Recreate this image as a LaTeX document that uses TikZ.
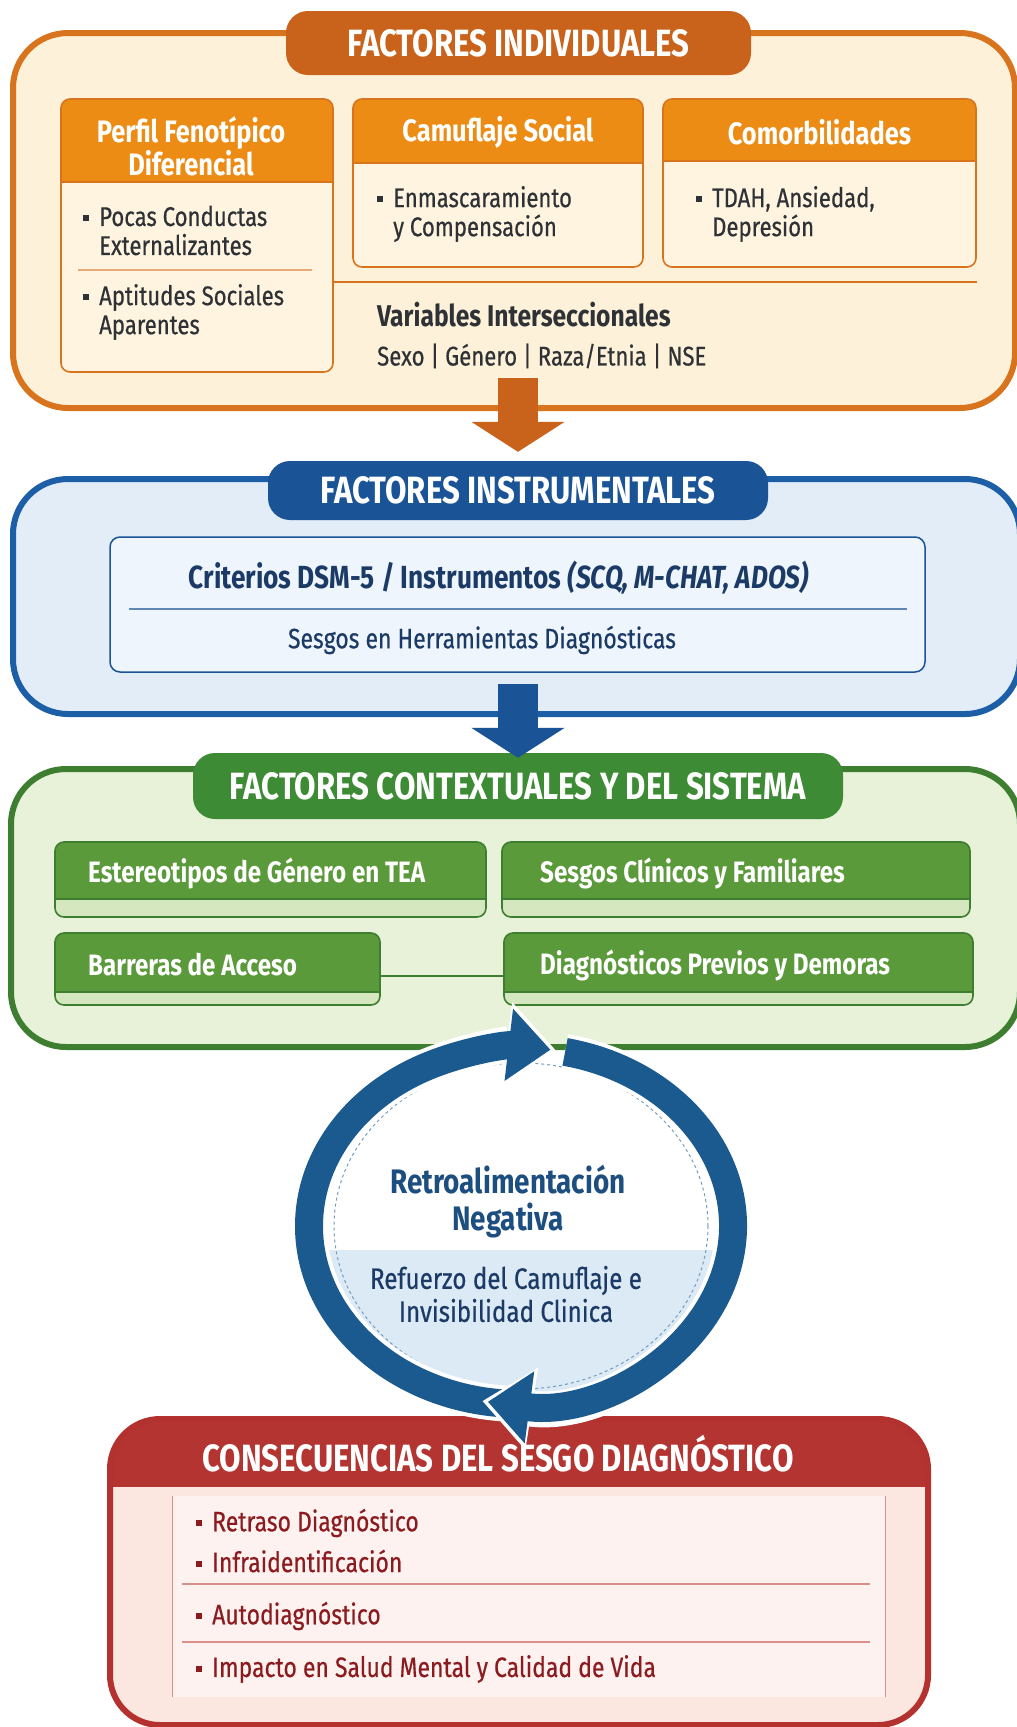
\documentclass[tikz,border=0pt]{standalone}
\usepackage{fontspec}
\setmainfont{Fira Sans}[FakeStretch=0.82]
\newfontfamily\medfont{Fira Sans}[FakeStretch=0.82,FakeBold=0.5]
\usetikzlibrary{arrows.meta,shapes.geometric}
\definecolor{orline}{HTML}{D8731E}
\definecolor{orfill}{HTML}{FDF1D9}
\definecolor{ortab}{HTML}{C9621A}
\definecolor{orhead}{HTML}{EC8C14}
\definecolor{orbody}{HTML}{FEF4DF}
\definecolor{txtdark}{HTML}{2E3135}
\definecolor{blline}{HTML}{1C5FA6}
\definecolor{blfill}{HTML}{E2EDF8}
\definecolor{bltab}{HTML}{1A5497}
\definecolor{blbox}{HTML}{EEF5FC}
\definecolor{bltext}{HTML}{1B3A66}
\definecolor{grline}{HTML}{3E7E30}
\definecolor{grfill}{HTML}{E8F2D9}
\definecolor{grtab}{HTML}{3E8B35}
\definecolor{grdark}{HTML}{5B9A3A}
\definecolor{grband}{HTML}{D5E7BE}
\definecolor{ringc}{HTML}{1B5A8F}
\definecolor{ringin}{HTML}{DCEAF6}
\definecolor{ringtext}{HTML}{1D4E80}
\definecolor{rdline}{HTML}{B3312E}
\definecolor{rdfill}{HTML}{FBE6E0}
\definecolor{rdhead}{HTML}{B33430}
\definecolor{rdtext}{HTML}{8C1B20}
\definecolor{rdsep}{HTML}{D9908A}
\newcommand\bul{\makebox[16pt][l]{\rule[5pt]{6pt}{6pt}}}
\newcommand\ind{\hspace*{16pt}}
\begin{document}
\begin{tikzpicture}[x=1pt,y=-1pt,
 panel/.style={draw=#1,line width=6pt,rounded corners=55pt},
 tab/.style={fill=#1,rounded corners=22pt,text=white,font=\fontsize{38}{42}\selectfont\bfseries},
 orbox/.style={draw=orline,line width=1.6pt,rounded corners=9pt,fill=orbody,
   path picture={\fill[orhead,sharp corners] (path picture bounding box.north west) rectangle ([yshift=-#1]path picture bounding box.north east);
     \draw[orline,line width=1.2pt,sharp corners] ([yshift=-#1]path picture bounding box.north west) -- ([yshift=-#1]path picture bounding box.north east);}},
 headtxt/.style={text=white,align=center,font=\fontsize{31}{30}\selectfont\bfseries},
 item/.style={text=txtdark,align=left,inner sep=0pt,anchor=west,font=\fontsize{27}{29}\medfont},
 grbox/.style={draw=grline,line width=1.6pt,rounded corners=9pt,fill=grdark,
   path picture={\fill[grband,sharp corners] ([yshift=#1]path picture bounding box.south west) rectangle (path picture bounding box.south east);
     \draw[grline,line width=1.4pt,sharp corners] ([yshift=#1]path picture bounding box.south west) -- ([yshift=#1]path picture bounding box.south east);}},
 grtxt/.style={text=white,anchor=west,inner sep=0pt,font=\fontsize{29.5}{32}\selectfont\bfseries},
 flow/.style={draw=#1,line width=40pt,-{Triangle[length=30pt,width=92pt]}},
 rditem/.style={text=rdtext,anchor=west,inner sep=0pt,font=\fontsize{28}{30}\medfont}]
\useasboundingbox (0,0) rectangle (1017,1727);
\fill[white] (0,0) rectangle (1017,1727);
% individuales
\node[panel=orline,fill=orfill,minimum width=1002pt,minimum height=375pt] (indiv) at (514,220.5) {};
\node[tab=ortab,minimum width=465pt,minimum height=64pt] (indivtab) at (518.5,43) {FACTORES INDIVIDUALES};
\node[orbox=83pt,minimum width=272pt,minimum height=273pt] (perfil) at (197,235.5) {};
\node[orbox=64pt,minimum width=290pt,minimum height=168pt] (camuf) at (498,183) {};
\node[orbox=62pt,minimum width=313pt,minimum height=168pt] (comorb) at (819.5,183) {};
\node[headtxt] (perfilhead) at (191,146) {Perfil Fenotípico\\Diferencial};
\node[headtxt] (camufhead) at (498,132) {Camuflaje Social};
\node[headtxt] (comorbhead) at (819.5,132) {Comorbilidades};
\node[item] (perfilA) at (83,230.5) {\bul Pocas Conductas\\\ind Externalizantes};
\node[item] (perfilB) at (83,312) {\bul Aptitudes Sociales\\\ind Aparentes};
\node[item] (camufA) at (377,214) {\bul Enmascaramiento\\\ind y Compensación};
\node[item] (comorbA) at (696,214) {\bul TDAH, Ansiedad,\\\ind Depresión};
\draw[orline!60,line width=1.2pt] ([xshift=18pt,yshift=-34.5pt]perfil.west) -- ([xshift=-22pt,yshift=-34.5pt]perfil.east);
\draw[orline,line width=1.5pt] ([yshift=-46.5pt]perfil.east) -- ([yshift=-46.5pt]perfil.east -| comorb.east);
\node[item,font=\fontsize{30}{30}\selectfont\bfseries] (vars) at (377,315) {Variables Interseccionales};
\node[item] (sexo) at (377,356) {Sexo | Género | Raza/Etnia | NSE};
% instrumentales
\node[panel=blline,fill=blfill,minimum width=1007pt,minimum height=235pt] (instr) at (516.5,596.5) {};
\node[tab=bltab,minimum width=500pt,minimum height=59pt] (instrtab) at (518,490.5) {FACTORES INSTRUMENTALES};
\node[draw=bltab,line width=1.5pt,fill=blbox,rounded corners=10pt,minimum width=815pt,minimum height=135pt] (criterios) at (517.5,604.5) {};
\node[text=bltext,font=\fontsize{32}{34}\selectfont\bfseries] (critA) at (499,578) {Criterios DSM-5 / Instrumentos \textit{(SCQ, M-CHAT, ADOS)}};
\draw[bltab!70,line width=1.2pt] ([xshift=20pt,yshift=-4.5pt]criterios.west) -- ([xshift=-19pt,yshift=-4.5pt]criterios.east);
\node[text=bltext,font=\fontsize{28}{30}\medfont] (critB) at (482,640) {Sesgos en Herramientas Diagnósticas};
\draw[flow=ortab] ([yshift=33pt]indiv.south -| instrtab.north) -- ([yshift=9pt]instrtab.north);
% contextuales
\node[panel=grline,fill=grfill,minimum width=1009pt,minimum height=278pt] (context) at (515.5,908) {};
\node[tab=grtab,minimum width=650pt,minimum height=66pt] (conttab) at (518,786) {FACTORES CONTEXTUALES Y DEL SISTEMA};
\draw[flow=bltab] ([yshift=33pt]instr.south -| conttab.north) -- ([yshift=-5pt]conttab.north);
\node[grbox=18pt,minimum width=431pt,minimum height=75pt] (estereo) at (270.5,879.5) {};
\node[grbox=18pt,minimum width=468pt,minimum height=75pt] (sesgos) at (736,879.5) {};
\node[grbox=13pt,minimum width=325pt,minimum height=72pt] (barreras) at (217.5,969) {};
\node[grbox=13pt,minimum width=469pt,minimum height=72pt] (diagn) at (738.5,969) {};
\draw[grline,line width=2pt] ([yshift=-7pt]barreras.east) -- ([yshift=-7pt]barreras.east -| diagn.west);
\node[grtxt] (estereotxt) at (88,873) {Estereotipos de Género en TEA};
\node[grtxt] (sesgostxt) at (540,873) {Sesgos Clínicos y Familiares};
\node[grtxt] (barrerastxt) at (88,965) {Barreras de Acceso};
\node[grtxt] (diagntxt) at (540,965) {Diagnósticos Previos y Demoras};
% consecuencias
\node[panel=rdline,fill=rdfill,rounded corners=50pt,minimum width=818pt,minimum height=306pt,
  path picture={\fill[rdhead,sharp corners] (path picture bounding box.north west) rectangle ([yshift=-68pt]path picture bounding box.north east);}] (conseq) at (519,1572) {};
\node[text=white,font=\fontsize{38}{42}\selectfont\bfseries] (conseqtab) at (498,1454) {CONSECUENCIAS DEL SESGO DIAGNÓSTICO};
\node[fill=rdfill!50!white,minimum width=712pt,minimum height=201pt] (lista) at (529,1596.5) {};
\draw[rdsep,line width=1.2pt] (lista.north west) -- (lista.south west);
\draw[rdsep,line width=1.2pt] (lista.north east) -- (lista.south east);
\foreach \t/\y [count=\i] in {Retraso Diagnóstico/1523,Infraidentificación/1561,Autodiagnóstico/1616,Impacto en Salud Mental y Calidad de Vida/1669}
  \node[rditem] (cons\i) at (196,\y) {\bul \t};
\foreach \y in {1584,1642}
  \draw[rdsep,line width=1.5pt] (182,\y) -- (870,\y);
% ciclo
\node[ellipse,fill=white,minimum width=396pt,minimum height=340pt,
  path picture={\fill[ringin] (path picture bounding box.south west) rectangle ([yshift=-24pt]path picture bounding box.east);}] (loop) at (521,1226) {};
\draw[ringc!60,line width=1pt,dashed] (loop.center) ellipse[x radius=187,y radius=163];
\foreach \a/\b in {92/278,282/459}{
  \draw[white,line width=36pt,-{Triangle[length=50pt,width=80pt]}] (loop.center) ++(\a:212 and 178) arc[start angle=\a,end angle=\b+1.5,x radius=212,y radius=178];
  \draw[ringc,line width=28pt,-{Triangle[length=42pt,width=70pt]}] (loop.center) ++(\a:212 and 178) arc[start angle=\a,end angle=\b,x radius=212,y radius=178];
}
\node[text=ringtext,align=center,font=\fontsize{34}{37}\selectfont\bfseries] (retro) at (508,1202) {Retroalimentación\\Negativa};
\node[text=bltext,align=center,font=\fontsize{29.5}{33}\medfont] (refuerzo) at (506,1294) {Refuerzo del Camuflaje e\\Invisibilidad Clinica};
\end{tikzpicture}
\end{document}
